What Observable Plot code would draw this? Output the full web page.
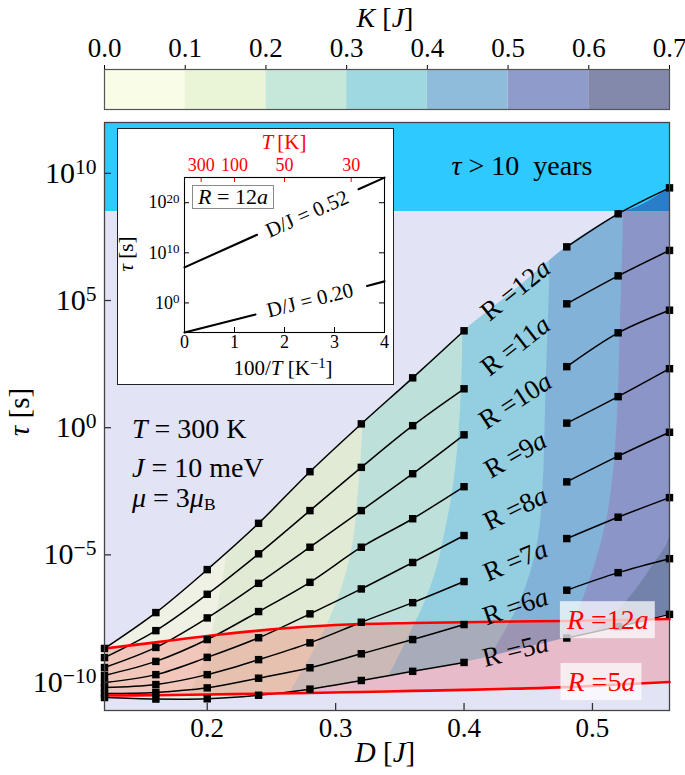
<!DOCTYPE html>
<html><head><meta charset="utf-8">
<script src="https://cdn.jsdelivr.net/npm/d3@7"></script>
<script src="https://cdn.jsdelivr.net/npm/@observablehq/plot@0.6"></script>
<style>
body{margin:0;background:#fff;}
#root{position:relative;width:685px;height:775px;overflow:hidden;font-family:"Liberation Serif","DejaVu Serif",serif;color:#000;background:#fff;}
.ov{position:absolute;white-space:nowrap;line-height:1;}
.c{transform:translate(-50%,-50%);}
.cr{transform:translate(-50%,-50%) rotate(-90deg);}
sup{font-size:70%;vertical-align:0.45em;line-height:0;}
sub{font-size:62%;vertical-align:-0.2em;line-height:0;}
svg text{font-family:"Liberation Serif","DejaVu Serif",serif;}
</style></head><body>
<div id="root">
  <div id="cbar" style="position:absolute;left:0;top:0"></div>
  <div id="main" style="position:absolute;left:0;top:112px"></div>
  <div id="inset" style="position:absolute;left:117px;top:128px"></div>
  <div class="ov" style="left:117px;top:128px;width:277px;height:257px;border:1.5px solid #222;box-sizing:border-box"></div>

  <div class="ov c" style="left:385px;top:18px;font-size:28px"><i>K</i> [<i>J</i>]</div>
  <div class="ov c" style="left:385px;top:752px;font-size:29px"><i>D</i> [<i>J</i>]</div>
  <div class="ov cr" style="left:19px;top:412px;font-size:29px"><i>τ</i> [s]</div>
  <div class="ov c" style="left:522px;top:166px;font-size:28px"><i>τ</i> &gt; 10&nbsp; years</div>
  <div class="ov" style="left:132px;top:415px;font-size:28px"><i>T</i> = 300 K</div>
  <div class="ov" style="left:132px;top:454px;font-size:28px"><i>J</i> = 10 meV</div>
  <div class="ov" style="left:132px;top:484px;font-size:28px"><i>μ</i> = 3<i>μ</i><sub>B</sub></div>

  <div class="ov c" style="left:284px;top:142px;font-size:21px;color:#ff0000"><i>T</i>&#8201;[K]</div>
  <div class="ov c" style="left:283px;top:368px;font-size:21px">100/<i>T</i> [K<sup>−1</sup>]</div>
  <div class="ov cr" style="left:126px;top:254px;font-size:21px"><i>τ</i> [s]</div>
  <div class="ov" style="left:192px;top:185px;width:82px;height:24px;border:1.2px solid #8a8a8a;box-sizing:border-box;background:#fff;font-size:22px;display:flex;align-items:center;justify-content:center"><span><i>R</i> = 12<i>a</i></span></div>
</div>
<script>
// ---------------- data ----------------
const dGrid = [0.12, 0.16, 0.20, 0.24, 0.28, 0.32, 0.36, 0.40, 0.44, 0.48, 0.52, 0.56];
const radii = [5, 6, 7, 8, 9, 10, 11, 12];
// log10(tau / s), T = 300 K, one value per dGrid entry
const logTauR5  = [-10.61, -10.67, -10.66, -10.52, -10.28, -9.94, -9.58, -9.23, -8.76, -8.27, -7.82, -7.34];
const logTauR6  = [-10.45, -10.41, -10.23, -9.85, -9.44, -8.89, -8.33, -7.74, -7.03, -6.39, -5.70, -5.15];
const logTauR7  = [-10.22, -10.10, -9.71, -9.12, -8.46, -7.65, -6.88, -6.05, -5.23, -4.36, -3.52, -2.75];
const logTauR8  = [-10.02, -9.71, -9.03, -8.26, -7.32, -6.34, -5.30, -4.24, -3.18, -2.13, -1.12, -0.18];
const logTauR9  = [-9.74, -9.19, -8.33, -7.23, -6.08, -4.70, -3.58, -2.32, -1.06, 0.18, 1.22, 2.32];
const logTauR10 = [-9.43, -8.64, -7.48, -6.12, -4.70, -3.26, -1.81, -0.28, 1.06, 2.40, 3.73, 4.62];
const logTauR11 = [-9.04, -7.98, -6.55, -4.96, -3.26, -1.56, 0.08, 1.53, 3.22, 4.87, 5.97, 6.97];
const logTauR12 = [-8.68, -7.27, -5.58, -3.76, -1.73, 0.15, 1.96, 3.81, 5.42, 7.11, 8.41, 9.43];
// red curves (R = 5a and R = 12a, second estimate)
const logTauRed5  = [-10.53, -10.52, -10.49, -10.46, -10.43, -10.39, -10.35, -10.31, -10.26, -10.20, -10.10, -10.00];
const logTauRed12 = [-8.68, -8.44, -8.19, -7.98, -7.82, -7.72, -7.68, -7.65, -7.62, -7.60, -7.56, -7.52];
const redLabelText = ["R=12a", "R=5a"];
const redLabelD = [0.512, 0.507];
const redLabelLogTau = [-7.57, -10.0];
const tenYearsSeconds = 3.156e8;

// K contour lines (K = 0.1 ... 0.6): log10(tau) and D along each boundary
const kLevels = [0.1, 0.2, 0.3, 0.4, 0.5, 0.6];
const kContourLogTau = [
  [12, -4.95, -6.27, -7.58, -8.88, -10.2, -11.12],
  [12, 0.28, -2.35, -4.95, -6.27, -7.58, -8.88, -10.2, -11.12],
  [12, 3.8, -0.24, -2.87, -4.16, -5.5, -6.8, -8.09, -9.43, -10.72, -11.12],
  [12, 7.07, 1.85, -2.87, -5.5, -6.8, -8.09, -9.43, -10.72, -11.12],
  [12, 8.53, 4.48, -0.79, -3.38, -4.71, -6.01, -7.19, -8.37, -9.55, -10.72, -11.12],
  [12, -4.2, -5.5, -6.8, -8.0, -9.5, -11.12]
];
const kContourD = [
  [0.215, 0.215, 0.211, 0.206, 0.200, 0.189, 0.183],
  [0.321, 0.321, 0.318, 0.312, 0.305, 0.295, 0.282, 0.267, 0.256],
  [0.399, 0.399, 0.396, 0.390, 0.385, 0.379, 0.370, 0.358, 0.345, 0.331, 0.327],
  [0.467, 0.467, 0.464, 0.461, 0.453, 0.444, 0.431, 0.415, 0.398, 0.393],
  [0.524, 0.524, 0.522, 0.518, 0.512, 0.506, 0.498, 0.489, 0.477, 0.462, 0.446, 0.440],
  [0.560, 0.560, 0.546, 0.527, 0.503, 0.472, 0.440]
];
const kEdges = [0, 0.1, 0.2, 0.3, 0.4, 0.5, 0.6, 0.7];

// axes
const xDomain = [0.12, 0.56];
const yDomainLog = [-11.12, 12];
const xTicks = [0.2, 0.3, 0.4, 0.5];
const yTicks = [1e-10, 1e-5, 1e0, 1e5, 1e10];

// inset: tau vs 100/T for R = 12a
const insetXDomain = [0, 4];
const insetYDomainLog = [-5.9, 25.03];
const insetXTicks = [0, 1, 2, 3, 4];
const insetYTicks = [1e0, 1e10, 1e20];
const temperatureTicks = [300, 100, 50, 30];
const insetLineLabel = ["D/J = 0.52", "D/J = 0.20"];
const insetSegInvT = [[[0, 1.45], [3.48, 4]], [[0, 1.42], [3.65, 4]]];
const insetSegLogTau = [[[7.1, 13.6], [22.7, 25.0]], [[-5.9, -2.3], [3.4, 4.3]]];
const insetLabelInvT = [2.45, 2.51];
const insetLabelLogTau = [17.75, 0.52];

// ---------------- styles ----------------
const serif = '"Liberation Serif", "DejaVu Serif", serif';
const lavender = "#e3e3f6", cyan = "#2ec9ff", deepBlue = "#2a7dc9";
const kFillColors = ["#eef1e3", "#e1ead5", "#bde0da", "#93cfe0", "#82b2d8", "#8b95c8", "#7282a9"];
const kLegendColors = ["#f9fce6", "#eaf4d6", "#c6e8da", "#9fd8de", "#8ebcda", "#8f9ccb", "#8289ab"];
const labelAngles = [-14, -19, -23, -26, -30, -33, -38, -39];
const ns = "http://www.w3.org/2000/svg";
const P = v => Math.pow(10, v);
const supFmt = d => { const e = Math.round(Math.log10(d)); return "10^" + (e < 0 ? "\u2212" + (-e) : e); };

function fixFonts(svg) {
  svg.querySelectorAll("text").forEach(t => { t.style.fontFamily = serif; t.style.fontVariant = "normal"; });
}
function supify(svg, size) {
  svg.querySelectorAll("text").forEach(t => {
    if (t.children.length) return;
    const s = t.textContent, k = s.indexOf("^");
    if (k < 0) return;
    if (size) t.style.fontSize = size;
    t.textContent = s.slice(0, k);
    const ts = document.createElementNS(ns, "tspan");
    ts.setAttribute("dy", "-0.42em");
    ts.style.fontSize = "72%";
    ts.textContent = s.slice(k + 1);
    t.appendChild(ts);
  });
}
function ital(s) { const t = document.createElementNS(ns, "tspan"); t.setAttribute("font-style", "italic"); t.textContent = s; return t; }

// ---------------- colorbar ----------------
const cbar = Plot.plot({
  width: 685, height: 110, marginLeft: 104, marginRight: 16, marginTop: 69, marginBottom: 1,
  style: {fontFamily: serif, fontSize: "27px", background: "transparent", color: "black", overflow: "visible"},
  color: {type: "identity"},
  x: {domain: [kEdges[0], kEdges[kEdges.length - 1]], axis: "top", ticks: kEdges, tickFormat: d3.format(".1f"), tickSize: 5, tickPadding: 8, label: null},
  marks: [
    Plot.rect(kLegendColors, {x1: (c, i) => kEdges[i], x2: (c, i) => kEdges[i + 1], fill: c => c}),
    Plot.frame({stroke: "#555", strokeWidth: 1.2})
  ]
});
document.getElementById("cbar").appendChild(cbar);
fixFonts(cbar);

// ---------------- main ----------------
const logTauByR = {5: logTauR5, 6: logTauR6, 7: logTauR7, 8: logTauR8, 9: logTauR9, 10: logTauR10, 11: logTauR11, 12: logTauR12};
const rows = radii.flatMap(R => dGrid.map((D, j) => ({R, D, tau: P(logTauByR[R][j]), seg: D <= 0.40 + 1e-9 ? 1 : D >= 0.48 - 1e-9 ? 2 : 0})));
const drawn = rows.filter(r => r.seg > 0);
const labelRows = rows.filter(r => r.seg === 0);
const redLabels = redLabelText.map((t, i) => ({t, D: redLabelD[i], tau: P(redLabelLogTau[i])}));
const W = 685, H = 663, mL = 104, mR = 16, mT = 10, mB = 65;
const plotW = W - mL - mR, plotH = H - mT - mB;
const curve = "catmull-rom";
const yTop = P(yDomainLog[1]), yBot = P(yDomainLog[0]);

const main = Plot.plot({
  width: W, height: H, marginLeft: mL, marginRight: mR, marginTop: mT, marginBottom: mB,
  style: {fontFamily: serif, fontSize: "27px", background: "transparent", color: "black", overflow: "visible"},
  x: {domain: xDomain, ticks: xTicks, tickFormat: d3.format(".1f"), tickSize: 0, tickPadding: 7, label: null},
  y: {type: "log", domain: [yBot, yTop], ticks: yTicks, tickFormat: supFmt, tickSize: 0, tickPadding: 8, label: null},
  marks: [
    Plot.frame({fill: lavender}),
    Plot.areaY(dGrid, {x: d => d, y1: (d, i) => P(logTauR5[i]), y2: (d, i) => P(logTauR12[i]), fill: kFillColors[0], curve}),
    ...kLevels.map((k, b) => Plot.areaX(kContourLogTau[b], {y: v => P(v), x1: (v, i) => kContourD[b][i], x2: xDomain[1], fill: kFillColors[b + 1], curve: "monotone-y"})),
    Plot.areaY(dGrid, {x: d => d, y1: (d, i) => P(logTauR12[i]), y2: yTop, fill: lavender, curve}),
    Plot.areaY(dGrid, {x: d => d, y1: yBot, y2: (d, i) => P(logTauR5[i]), fill: lavender, curve}),
    Plot.areaY(dGrid, {x: d => d, y1: tenYearsSeconds, y2: yTop, fill: cyan}),
    Plot.areaY(dGrid, {x: d => d, y1: tenYearsSeconds, y2: (d, i) => Math.max(P(logTauR12[i]), tenYearsSeconds), fill: deepBlue, curve: "monotone-x"}),
    Plot.areaY(dGrid, {x: d => d, y1: (d, i) => P(logTauRed5[i]), y2: (d, i) => P(logTauRed12[i]), fill: "#ff1c1c", fillOpacity: 0.2, curve}),
    Plot.line(drawn, {x: "D", y: "tau", z: r => r.R * 10 + r.seg, stroke: "black", strokeWidth: 1.5, curve}),
    Plot.line(dGrid, {x: d => d, y: (d, i) => P(logTauRed12[i]), stroke: "#ff0000", strokeWidth: 2.6, curve}),
    Plot.line(dGrid, {x: d => d, y: (d, i) => P(logTauRed5[i]), stroke: "#ff0000", strokeWidth: 2.6, curve}),
    Plot.dot(drawn, {x: "D", y: "tau", symbol: "square", r: 4.2, fill: "black", stroke: "none"}),
    Plot.text(labelRows, {x: "D", y: "tau", text: r => `R=${r.R}a`, rotate: r => labelAngles[radii.indexOf(r.R)], fontSize: 27, fill: "black", ariaDescription: "rlabel"}),
    Plot.text(redLabels, {x: "D", y: "tau", text: "t", fontSize: 28, fill: "#ff0000", ariaDescription: "redlabel"}),
    Plot.tickY(yTicks, {y: d => d, insetRight: plotW - 7, stroke: "#333", strokeWidth: 1.3}),
    Plot.tickX(xTicks, {x: d => d, insetTop: plotH - 7, stroke: "#333", strokeWidth: 1.3}),
    Plot.frame({stroke: "#444", strokeWidth: 1.3})
  ]
});
document.getElementById("main").appendChild(main);
fixFonts(main);
supify(main, "30px");
main.querySelectorAll('g[aria-description="rlabel"] text').forEach(t => {
  const m = t.textContent.match(/^R=(\d+)a$/); if (!m) return;
  t.textContent = "";
  t.append("R =" + m[1]);
  t.appendChild(ital("a"));
});
main.querySelectorAll('g[aria-description="redlabel"] text').forEach(t => {
  const m = t.textContent.match(/^R=(\d+)a$/); if (!m) return;
  t.textContent = "";
  t.appendChild(ital("R"));
  t.append(" =" + m[1]);
  t.appendChild(ital("a"));
  const b = t.getBBox();
  const r = document.createElementNS(ns, "rect");
  r.setAttribute("x", b.x - 6); r.setAttribute("y", b.y - 3);
  r.setAttribute("width", b.width + 12); r.setAttribute("height", b.height + 6);
  r.setAttribute("fill", "#ffffff"); r.setAttribute("fill-opacity", "0.72"); r.setAttribute("stroke", "none");
  const tr = t.getAttribute("transform"); if (tr) r.setAttribute("transform", tr);
  t.parentNode.insertBefore(r, t);
});

// ---------------- inset ----------------
const iW = 277, iH = 257, iL = 67, iR = 10, iT = 49, iB = 53;
const iPW = iW - iL - iR, iPH = iH - iT - iB;
const insetRows = [];
insetSegInvT.forEach((segs, li) => segs.forEach((xs, si) => xs.forEach((x, k) => insetRows.push({z: li * 10 + si, x, tau: P(insetSegLogTau[li][si][k])}))));
const insetLabels = insetLineLabel.map((t, i) => ({t, x: insetLabelInvT[i], tau: P(insetLabelLogTau[i])}));
const insetAngles = [-24, -14];
const inset = Plot.plot({
  width: iW, height: iH, marginLeft: iL, marginRight: iR, marginTop: iT, marginBottom: iB,
  style: {fontFamily: serif, fontSize: "18px", background: "white", color: "black", overflow: "visible"},
  x: {domain: insetXDomain, ticks: insetXTicks, tickFormat: d3.format("d"), tickSize: 0, tickPadding: 3, label: null},
  y: {type: "log", domain: [P(insetYDomainLog[0]), P(insetYDomainLog[1])], ticks: insetYTicks, tickFormat: supFmt, tickSize: 0, tickPadding: 5, label: null},
  marks: [
    Plot.line(insetRows, {x: "x", y: "tau", z: "z", stroke: "black", strokeWidth: 2.1}),
    Plot.text(insetLabels, {x: "x", y: "tau", text: "t", rotate: (d, i) => insetAngles[i], fontSize: 21, fill: "black"}),
    Plot.tickX(insetXTicks.slice(1, -1), {x: d => d, insetTop: iPH - 5, stroke: "black"}),
    Plot.tickX(temperatureTicks, {x: t => 100 / t, insetBottom: iPH - 5, stroke: "#ff0000"}),
    Plot.tickY(insetYTicks, {y: d => d, insetRight: iPW - 5, stroke: "black"}),
    Plot.tickY(insetYTicks, {y: d => d, insetLeft: iPW - 5, stroke: "black"}),
    Plot.text(temperatureTicks, {x: t => 100 / t, text: t => String(t), frameAnchor: "top", lineAnchor: "middle", dy: -12, fill: "#ff0000", fontSize: 18}),
    Plot.frame({stroke: "black", strokeWidth: 1.1})
  ]
});
document.getElementById("inset").appendChild(inset);
fixFonts(inset);
supify(inset);
</script>
</body></html>
